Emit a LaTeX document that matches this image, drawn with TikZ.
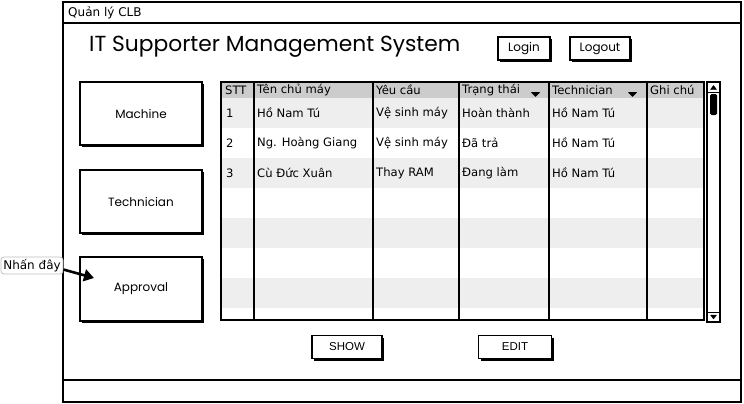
\documentclass[tikz,border=0pt]{standalone}
\usepackage{fontspec}
\setmainfont{DejaVu Sans}
\newfontfamily\titlefont{Poppins}
\newfontfamily\arialfont{Liberation Sans}
\usetikzlibrary{arrows.meta,shadows}
\definecolor{hdrgray}{HTML}{CCCCCC}
\definecolor{rowgray}{HTML}{EEEEEE}
\begin{document}
\begin{tikzpicture}[x=1pt,y=-1pt,
  frame/.style={draw=black,line width=1.8pt},
  btnbox/.style={draw=black,line width=1.5pt,fill=white,inner sep=0pt,
    drop shadow={shadow xshift=2.2pt,shadow yshift=-2.2pt,fill=black,opacity=1},
    font=\titlefont\fontsize{12}{14}\selectfont},
  smallbtn/.style={btnbox,font=\arialfont\fontsize{11.5}{13}\selectfont},
  celltxt/.style={anchor=west,inner sep=0pt,font=\fontsize{11.6}{13}\selectfont},
  colline/.style={draw=black,line width=1.4pt},
  tri/.style={fill=black,line join=round,draw=black,line width=0.6pt}
]
\useasboundingbox (0,0) rectangle (744,404);

% window
\draw[frame,fill=white] (63,2) rectangle (741,402);
\draw[frame,line width=1.4pt] (63,23) -- (741,23);
\draw[frame,line width=1.4pt] (63,380) -- (741,380);
\node[anchor=west,inner sep=0pt,font=\fontsize{12}{14}\selectfont] (wtitle) at (68,12.5) {Quản lý CLB};

% title
\node[anchor=west,inner sep=0pt,font=\titlefont\fontsize{21.8}{26}\selectfont] (apptitle) at (89,47) {IT Supporter Management System};

% login / logout
\node[btnbox,minimum width=52pt,minimum height=23pt] (login) at (524,48.5) {Login};
\node[btnbox,minimum width=60pt,minimum height=23pt] (logout) at (600,48.5) {Logout};

% left buttons
\node[btnbox,minimum width=122pt,minimum height=63pt] (machine) at (141,113.5) {Machine};
\node[btnbox,minimum width=122pt,minimum height=63pt] (technician) at (141,201.5) {Technician};
\node[btnbox,minimum width=122pt,minimum height=64pt] (approval) at (141,289) {Approval};

% table background
\fill[white] (221,82) rectangle (704,320);
\fill[hdrgray] (221,82) rectangle (704,98);
\foreach \y in {98,158,218,278} {\fill[rowgray] (221,\y) rectangle (704,\y+30);}
\foreach \x in {254,373,459,549,647} {\draw[colline] (\x,82) -- (\x,320);}
\draw[colline,line width=1.6pt] (221,82) rectangle (704,320);

% header
\node[celltxt] (hstt) at (225,90) {STT};
\node[celltxt] (hten) at (257,90) {Tên chủ máy};
\node[celltxt] (hyeu) at (376,90) {Yêu cầu};
\node[celltxt] (htrang) at (462,90) {Trạng thái};
\node[celltxt] (htech) at (552,90) {Technician};
\node[celltxt] (hghi) at (650,90) {Ghi chú};
\draw[tri] (531.5,92.5) -- (539.5,92.5) -- (535.5,96.5) -- cycle;
\draw[tri] (628.5,92.5) -- (636.5,92.5) -- (632.5,96.5) -- cycle;

% rows
\node[celltxt] (r1a) at (226,113) {1};
\node[celltxt] (r1b) at (257,113) {Hồ Nam Tú};
\node[celltxt] (r1c) at (376,113) {Vệ sinh máy};
\node[celltxt] (r1d) at (462,113) {Hoàn thành};
\node[celltxt] (r1e) at (552,113) {Hồ Nam Tú};
\node[celltxt] (r2a) at (226,143) {2};
\node[celltxt] (r2b) at (257,143) {Ng. Hoàng Giang};
\node[celltxt] (r2c) at (376,143) {Vệ sinh máy};
\node[celltxt] (r2d) at (462,143) {Đã trả};
\node[celltxt] (r2e) at (552,143) {Hồ Nam Tú};
\node[celltxt] (r3a) at (226,173) {3};
\node[celltxt] (r3b) at (257,173) {Cù Đức Xuân};
\node[celltxt] (r3c) at (376,173) {Thay RAM};
\node[celltxt] (r3d) at (462,173) {Đang làm};
\node[celltxt] (r3e) at (552,173) {Hồ Nam Tú};

% scrollbar
\draw[draw=black,line width=1.3pt,fill=white] (707,82) rectangle (720,322);
\draw[line width=0.9pt] (707,92) -- (720,92);
\draw[line width=0.9pt] (707,312) -- (720,312);
\fill[black,rounded corners=1.5pt] (710,94) rectangle (717,115);
\draw[tri,line width=0.4pt] (710.5,89.5) -- (716.5,89.5) -- (713.5,85.5) -- cycle;
\draw[tri,line width=0.4pt] (710.5,315) -- (716.5,315) -- (713.5,319) -- cycle;

% bottom buttons
\node[smallbtn,minimum width=70pt,minimum height=23pt] (show) at (347,347) {SHOW};
\node[smallbtn,minimum width=73pt,minimum height=23pt] (edit) at (515,347) {EDIT};

% callout
\node[draw=black!25,fill=white,rounded corners=3pt,line width=0.8pt,
  minimum width=62pt,minimum height=17pt,inner sep=0pt,
  font=\fontsize{12}{14}\selectfont] (callout) at (32,265.5) {Nhấn đây};
\coordinate (tip) at (94,278);
\draw[line width=2.6pt,-{Triangle[length=10pt,width=12pt]}] ([yshift=-4pt]callout.east) -- (tip);
\end{tikzpicture}
\end{document}
